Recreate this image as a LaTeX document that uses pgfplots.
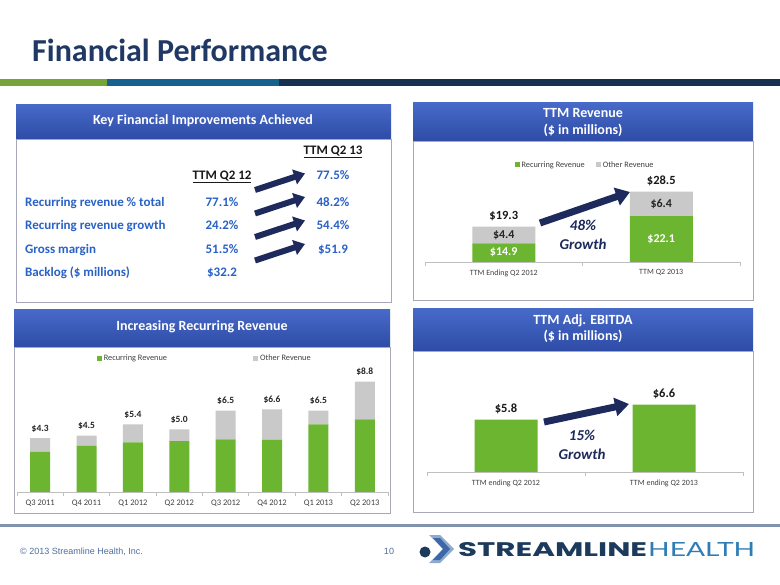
\documentclass[border=0pt]{standalone}
\usepackage{pgfplots}
\pgfplotsset{compat=1.18}
\usepackage{pgfplotstable}
\usepackage{graphicx}
\usepackage{fontspec}
\usetikzlibrary{arrows.meta}
\setmainfont{Carlito}
\newfontfamily\arialf{Liberation Sans}
\newfontfamily\logobold{Poppins}
\newfontfamily\logolight{Lato}
\newcommand\fs[1]{\fontsize{#1}{#1}\selectfont}

\definecolor{navy}{HTML}{1F3864}
\definecolor{hdrtop}{HTML}{4769C8}
\definecolor{hdrbot}{HTML}{2E4CA6}
\definecolor{lblue}{HTML}{2862C6}
\definecolor{bgreen}{HTML}{6CB530}
\definecolor{bgray}{HTML}{C9C9C9}
\definecolor{arrowc}{HTML}{1E2A5C}
\definecolor{pborder}{HTML}{A8A8B8}
\definecolor{axgray}{HTML}{BFBFBF}
\definecolor{txtgray}{HTML}{404040}
\definecolor{tgreen}{HTML}{77A43A}
\definecolor{tteal}{HTML}{17618F}
\definecolor{tnavy}{HTML}{17304F}
\definecolor{sepc}{HTML}{8092AE}
\definecolor{copyc}{HTML}{4F6E9E}
\definecolor{logonavy}{HTML}{1B3A5C}
\definecolor{logoblue}{HTML}{2E7DB5}
\definecolor{logolite}{HTML}{8FAAD0}
\definecolor{logomid}{HTML}{3D68A8}

\pgfplotstableread{
x rec oth tot
0 14.9 4.4 19.3
1 22.1 6.4 28.5
}\ttmrev

\pgfplotstableread{
x rec oth tot
0 3.20 1.10 4.3
1 3.70 0.80 4.5
2 3.95 1.45 5.4
3 4.05 0.95 5.0
4 4.20 2.30 6.5
5 4.15 2.45 6.6
6 5.40 1.10 6.5
7 5.80 3.00 8.8
}\quarterly

\pgfplotstableread{
x val lab
0 5.8 5.8
1 6.6 6.6
}\ebitda

\pgfplotsset{slidebar/.style={
  scale only axis, enlargelimits=false, clip mode=individual,
  anchor=south west,
  axis x line*=bottom, axis y line=none,
  x axis line style={axgray, line width=0.8pt},
  xtick=data, major x tick style={draw=none},
  minor x tick style={axgray, line width=0.8pt}, minor tick length=4pt, tick align=outside,
  xticklabel style={font=\fs{8}, text=txtgray},
  legend style={draw=none, fill=none, font=\fs{8.3}, text=txtgray, legend columns=2, anchor=center},
},
sqlegend/.style={legend image code/.code={\fill[##1] (0pt,-2.5pt) rectangle (5pt,2.5pt);}}}

\begin{document}
\begin{tikzpicture}
\begin{scope}[x=1pt,y=-1pt]
\path[use as bounding box, fill=white] (0,0) rectangle (780,585);
% title
\node[anchor=base west, inner sep=0, font=\bfseries\fs{32}, text=navy] at (32,62) {Financial Performance};
\fill[tgreen] (0,79) rectangle (107,86);
\fill[tteal] (107,79) rectangle (279,86);
\fill[tnavy] (279,79) rectangle (780,86);
% panels
\draw[pborder, line width=0.8pt] (16,139) rectangle (391,302);
\shade[top color=hdrtop, bottom color=hdrbot] (16,105) rectangle (391,139);
\draw[pborder, line width=0.8pt] (413,141) rectangle (753,300);
\shade[top color=hdrtop, bottom color=hdrbot] (413,103) rectangle (753,141);
\draw[pborder, line width=0.8pt] (14,347) rectangle (390,513);
\shade[top color=hdrtop, bottom color=hdrbot] (14,310) rectangle (390,347);
\draw[pborder, line width=0.8pt] (413,351) rectangle (753,512);
\shade[top color=hdrtop, bottom color=hdrbot] (413,309) rectangle (753,351);
% headers
\node[anchor=mid, font=\bfseries\fs{14}, text=white] at (203,122) {Key Financial Improvements Achieved};
\node[anchor=mid, font=\bfseries\fs{14}, text=white] at (583,115) {TTM Revenue};
\node[anchor=mid, font=\bfseries\fs{14}, text=white] at (583,132) {(\$ in millions)};
\node[anchor=mid, font=\bfseries\fs{14}, text=white] at (202,328) {Increasing Recurring Revenue};
\node[anchor=mid, font=\bfseries\fs{14}, text=white] at (583,322) {TTM Adj. EBITDA};
\node[anchor=mid, font=\bfseries\fs{14}, text=white] at (583,338) {(\$ in millions)};
% table
\node[anchor=mid, font=\bfseries\fs{13}, text=black!90] at (333,152) {\underline{TTM Q2 13}};
\node[anchor=mid, font=\bfseries\fs{13}, text=black!90] at (222,177) {\underline{TTM Q2 12}};
\node[anchor=mid, font=\bfseries\fs{13}, text=lblue] at (333,177) {77.5\%};
\foreach \lab/\va/\vb/\yy in {Recurring revenue \% total/77.1\%/48.2\%/204,
    Recurring revenue growth/24.2\%/54.4\%/227,
    Gross margin/51.5\%/\$51.9/251,
    Backlog (\$ millions)/\$32.2//274}{
  \node[anchor=mid west, inner sep=0, font=\bfseries\fs{13}, text=lblue] at (25,\yy) {\lab};
  \node[anchor=mid, font=\bfseries\fs{13}, text=lblue] at (222,\yy) {\va};
  \node[anchor=mid, font=\bfseries\fs{13}, text=lblue] at (333,\yy) {\vb};
}
\foreach \yy in {0,23.5,47,70.5}{
  \draw[arrowc, line width=6pt, -{Triangle[length=11pt,width=15pt]}] (255,190+\yy) -- (305,173.5+\yy);
}
% arrows in charts
\draw[arrowc, line width=7pt, -{Triangle[length=14pt,width=18pt]}] (540,223) -- (630,192);
\draw[arrowc, line width=7pt, -{Triangle[length=14pt,width=18pt]}] (544,422) -- (629,404);
\node[anchor=mid, font=\bfseries\itshape\fs{15}, text=arrowc] at (583,228) {48\%};
\node[anchor=mid, font=\bfseries\itshape\fs{15}, text=arrowc] at (583,247) {Growth};
\node[anchor=mid, font=\bfseries\itshape\fs{15}, text=arrowc] at (582,438) {15\%};
\node[anchor=mid, font=\bfseries\itshape\fs{15}, text=arrowc] at (582,457) {Growth};
% footer
\fill[sepc] (0,524) rectangle (780,526.5);
\node[anchor=mid west, inner sep=0, font=\arialf\fs{9}, text=copyc] at (20,552) {© 2013 Streamline Health, Inc.};
\node[anchor=mid, inner sep=0, font=\arialf\fs{9}, text=copyc] at (389,552) {10};
\fill[logolite] (429,535) -- (440,535) -- (454,549) -- (440,563) -- (429,563) -- (443,549) -- cycle;
\fill[logomid] (433,538) -- (440,538) -- (450,549) -- (440,560) -- (433,560) -- (443,549) -- cycle;
\fill[logonavy] (425,552) circle (5.5);
\node[anchor=south west, inner sep=0, text=logonavy] at (458,557) {\resizebox{189pt}{14pt}{\logobold\bfseries STREAMLINE}};
\node[anchor=south west, inner sep=0, text=logoblue] at (648,557) {\resizebox{107pt}{14pt}{\logolight HEALTH}};
\end{scope}

% TTM revenue chart
\begin{axis}[slidebar, at={(425pt,-262pt)}, width=315pt, height=110pt,
  xmin=-0.5, xmax=1.5, ymin=10, ymax=38.95,
  ybar stacked, bar width=63pt, sqlegend,
  minor xtick={-0.5,0.5,1.5},
  xticklabels={TTM Ending Q2 2012, TTM Q2 2013},
  legend style={at={(0.508,0.882)}, /tikz/every even column/.append style={column sep=9pt}}]
\addplot[fill=bgreen, draw=none] table[x=x, y=rec] {\ttmrev};
\addplot[fill=bgray, draw=none] table[x=x, y=oth] {\ttmrev};
\legend{Recurring Revenue, Other Revenue}
\node[anchor=south, yshift=2pt, font=\bfseries\fs{12.5}, text=black!90] at (axis cs:0,19.3) {\$19.3};
\node[anchor=south, yshift=2pt, font=\bfseries\fs{12.5}, text=black!90] at (axis cs:1,28.5) {\$28.5};
\coordinate (ra) at (axis cs:0,12.45);
\coordinate (rb) at (axis cs:0,17.1);
\coordinate (rc) at (axis cs:1,16.05);
\coordinate (rd) at (axis cs:1,25.3);
\end{axis}
\node[font=\bfseries\fs{12}, text=white] at (ra) {\$14.9};
\node[font=\bfseries\fs{12}, text=black!85] at (rb) {\$4.4};
\node[font=\bfseries\fs{12}, text=white] at (rc) {\$22.1};
\node[font=\bfseries\fs{12}, text=black!85] at (rd) {\$6.4};

% Quarterly chart
\begin{axis}[slidebar, at={(17pt,-492pt)}, width=371pt, height=140pt,
  xmin=-0.5, xmax=7.5, ymin=0, ymax=11.17,
  ybar stacked, bar width=20pt, sqlegend,
  minor xtick={-0.5,0.5,...,7.5},
  xticklabels={Q3 2011, Q4 2011, Q1 2012, Q2 2012, Q3 2012, Q4 2012, Q1 2013, Q2 2013},
  xticklabel style={font=\fs{8.5}},
  legend style={at={(0.506,0.957)}, /tikz/every even column/.append style={column sep=84pt}}]
\addplot[fill=bgreen, draw=none] table[x=x, y=rec] {\quarterly};
\addplot[fill=bgray, draw=none] table[x=x, y=oth] {\quarterly};
\legend{Recurring Revenue, Other Revenue}
\foreach \i/\t in {0/4.3,1/4.5,2/5.4,3/5.0,4/6.5,5/6.6,6/6.5,7/8.8}{
  \edef\temp{\noexpand\node[anchor=south, yshift=2.5pt, font=\noexpand\bfseries\noexpand\fs{9.5}, text=black!85] at (axis cs:\i,\t) {\noexpand\$\t};}
  \temp
}
\end{axis}

% EBITDA chart
\begin{axis}[slidebar, at={(427pt,-472pt)}, width=316pt, height=110pt,
  xmin=-0.5, xmax=1.5, ymin=3, ymax=8.87,
  ybar, bar width=63pt,
  minor xtick={-0.5,0.5,1.5},
  xticklabels={TTM ending Q2 2012, TTM ending Q2 2013}]
\addplot[fill=bgreen, draw=none, nodes near coords={\$\pgfplotspointmeta}, point meta=explicit symbolic,
  every node near coord/.append style={font=\bfseries\fs{12.5}, text=black!90, yshift=2pt}]
  table[x=x, y=val, meta=lab] {\ebitda};
\end{axis}
\end{tikzpicture}
\end{document}
